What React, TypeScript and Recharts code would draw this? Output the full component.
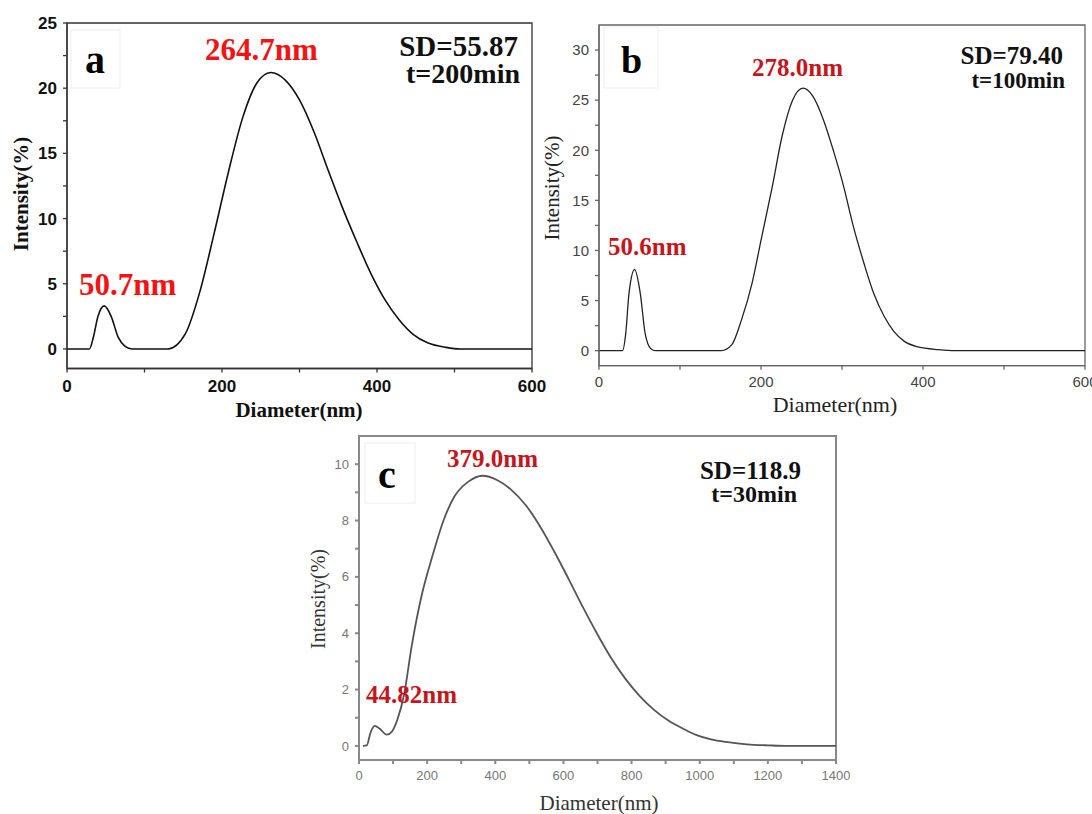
import React from "react";
import { LineChart, Line, XAxis, YAxis, ReferenceArea } from "recharts";

// panel a (t=200min)
const aDiameter = [0, 29, 34, 40, 48, 57, 66, 75, 84, 130, 153, 171, 190, 208, 227, 245, 263, 282, 300, 319, 337, 355, 374, 392, 411, 429, 447, 466, 489, 507, 600];
const aIntensity = [0, 0, 0.9, 2.5, 3.3, 2.5, 0.9, 0.2, 0, 0, 1.2, 4.3, 8.9, 13.5, 17.8, 20.4, 21.2, 20.6, 19.1, 16.6, 13.7, 10.9, 8.2, 5.8, 3.7, 2.2, 1.1, 0.45, 0.12, 0, 0];

// panel b (t=100min)
const bDiameter = [0, 29, 33, 37, 44, 51, 57, 64, 70, 151, 164, 176, 189, 201, 214, 226, 239, 252, 264, 277, 289, 302, 314, 327, 339, 352, 364, 377, 394, 419, 440, 600];
const bIntensity = [0, 0, 1.7, 5.7, 8.1, 5.7, 1.7, 0.2, 0, 0, 0.6, 3.1, 6.75, 11.4, 16.4, 21.4, 25.0, 26.2, 25.4, 23.05, 20.06, 16.4, 12.4, 8.75, 5.75, 3.43, 1.93, 0.93, 0.37, 0.1, 0, 0];

// panel c (t=30min)
const cDiameter = [12, 23, 33, 46, 60, 81, 96, 112, 133, 154, 185, 217, 248, 280, 321, 363, 405, 447, 489, 531, 573, 615, 656, 698, 740, 782, 824, 866, 908, 950, 991, 1033, 1075, 1117, 1159, 1200, 1260, 1400];
const cIntensity = [0, 0.02, 0.44, 0.71, 0.62, 0.4, 0.5, 0.91, 1.86, 3.5, 5.4, 6.8, 8.0, 8.85, 9.38, 9.59, 9.44, 9.09, 8.55, 7.8, 6.9, 5.93, 4.95, 4.0, 3.12, 2.38, 1.77, 1.28, 0.9, 0.62, 0.38, 0.23, 0.14, 0.08, 0.04, 0.02, 0, 0];

const xTicks600 = [0, 100, 200, 300, 400, 500, 600];
const xTicks1400 = [0, 100, 200, 300, 400, 500, 600, 700, 800, 900, 1000, 1100, 1200, 1300, 1400];
const aYTicks = [0, 2.5, 5, 7.5, 10, 12.5, 15, 17.5, 20, 22.5, 25];
const bYTicks = [0, 2.5, 5, 7.5, 10, 12.5, 15, 17.5, 20, 22.5, 25, 27.5, 30];
const cYTicks = [0, 1, 2, 3, 4, 5, 6, 7, 8, 9, 10];

const SANS = "'Liberation Sans', Arial, sans-serif";
const SERIF = "'Liberation Serif', 'Times New Roman', serif";

interface PanelProps {
  left: number;
  top: number;
  width: number;
  height: number;
  yWidth: number;
  margin: { top: number; right: number; bottom: number; left: number };
  xs: number[];
  ys: number[];
  xDomain: [number, number];
  yDomain: [number, number];
  xTicks: number[];
  yTicks: number[];
  xStep: number;
  yStep: number;
  tickFont: any;
  axisColor: string;
  axisWidth: number;
  lineColor: string;
  lineWidth: number;
}

const Panel: React.FC<PanelProps> = (p) => {
  const data = p.xs.map((d, i) => ({ d, v: p.ys[i] }));
  const axisLine = { stroke: p.axisColor, strokeWidth: p.axisWidth };
  return (
    <div style={{ position: "absolute", left: p.left, top: p.top }}>
      <LineChart width={p.width} height={p.height} data={data} margin={p.margin}>
        <XAxis
          dataKey="d"
          type="number"
          domain={p.xDomain}
          ticks={p.xTicks}
          allowDataOverflow
          tickFormatter={(v: number) => (v % p.xStep === 0 ? String(v) : "")}
          tick={p.tickFont}
          axisLine={axisLine}
          tickLine={axisLine}
          tickSize={4}
          tickMargin={7}
          height={30}
          interval={0}
        />
        <YAxis
          type="number"
          domain={p.yDomain}
          ticks={p.yTicks}
          allowDataOverflow
          tickFormatter={(v: number) => (v % p.yStep === 0 ? String(v) : "")}
          tick={p.tickFont}
          axisLine={axisLine}
          tickLine={axisLine}
          tickSize={4}
          tickMargin={6}
          width={p.yWidth}
          interval={0}
        />
        <ReferenceArea
          x1={p.xDomain[0]}
          x2={p.xDomain[1]}
          y1={p.yDomain[0]}
          y2={p.yDomain[1]}
          fill="none"
          fillOpacity={0}
          stroke={p.axisColor}
          strokeWidth={p.axisWidth}
          ifOverflow="visible"
        />
        <Line
          type="monotone"
          dataKey="v"
          stroke={p.lineColor}
          strokeWidth={p.lineWidth}
          dot={false}
          isAnimationActive={false}
        />
      </LineChart>
    </div>
  );
};

const App: React.FC = () => {
  const redA = "#f21414";
  const redBC = "#c4161c";
  return (
    <div style={{ position: "absolute", left: 0, top: 0, width: 1092, height: 814, background: "#fff", overflow: "hidden" }}>
      <Panel
        left={0}
        top={0}
        width={560}
        height={420}
        yWidth={67}
        margin={{ top: 23, right: 28, bottom: 21.5, left: 0 }}
        xs={aDiameter}
        ys={aIntensity}
        xDomain={[0, 600]}
        yDomain={[-1.5, 25]}
        xTicks={xTicks600}
        yTicks={aYTicks}
        xStep={200}
        yStep={5}
        tickFont={{ fontFamily: SANS, fontSize: 17, fontWeight: 700, fill: "#111" }}
        axisColor="#333"
        axisWidth={1.3}
        lineColor="#111"
        lineWidth={1.6}
      />
      <Panel
        left={540}
        top={0}
        width={552}
        height={420}
        yWidth={59}
        margin={{ top: 25, right: 7, bottom: 24.3, left: 0 }}
        xs={bDiameter}
        ys={bIntensity}
        xDomain={[0, 600]}
        yDomain={[-1.5, 32.5]}
        xTicks={xTicks600}
        yTicks={bYTicks}
        xStep={200}
        yStep={5}
        tickFont={{ fontFamily: SANS, fontSize: 15, fill: "#444" }}
        axisColor="#666"
        axisWidth={1.3}
        lineColor="#222"
        lineWidth={1.3}
      />
      <Panel
        left={290}
        top={420}
        width={560}
        height={394}
        yWidth={69}
        margin={{ top: 16, right: 14, bottom: 24, left: 0 }}
        xs={cDiameter}
        ys={cIntensity}
        xDomain={[0, 1400]}
        yDomain={[-0.5, 11]}
        xTicks={xTicks1400}
        yTicks={cYTicks}
        xStep={200}
        yStep={2}
        tickFont={{ fontFamily: SANS, fontSize: 13, fill: "#777" }}
        axisColor="#888"
        axisWidth={2}
        lineColor="#555"
        lineWidth={1.8}
      />
      <svg width={1092} height={814} style={{ position: "absolute", left: 0, top: 0, pointerEvents: "none" }}>
        {/* panel a */}
        <rect x={71} y={30} width={49} height={58} fill="#fff" stroke="#eee" />
        <text x={85} y={73} fontFamily={SERIF} fontWeight={700} fontSize={40} fill="#000">a</text>
        <text x={205} y={60} fontFamily={SERIF} fontWeight={700} fontSize={31} fill={redA}>264.7nm</text>
        <text x={79} y={295} fontFamily={SERIF} fontWeight={700} fontSize={31} fill={redA}>50.7nm</text>
        <text x={518} y={56} textAnchor="end" fontFamily={SERIF} fontWeight={700} fontSize={29} fill="#111">SD=55.87</text>
        <text x={520} y={83} textAnchor="end" fontFamily={SERIF} fontWeight={700} fontSize={28} fill="#111">t=200min</text>
        <text x={299} y={417} textAnchor="middle" fontFamily={SERIF} fontWeight={700} fontSize={21} fill="#111">Diameter(nm)</text>
        <text transform="translate(28,194) rotate(-90)" textAnchor="middle" fontFamily={SERIF} fontWeight={700} fontSize={21} fill="#111">Intensity(%)</text>

        {/* panel b */}
        <rect x={604} y={27} width={54} height={61} fill="#fff" stroke="#eee" />
        <text x={621} y={73} fontFamily={SERIF} fontWeight={700} fontSize={38} fill="#000">b</text>
        <text x={752} y={76} fontFamily={SERIF} fontWeight={700} fontSize={25} fill={redBC}>278.0nm</text>
        <text x={608} y={255} fontFamily={SERIF} fontWeight={700} fontSize={25} fill={redBC}>50.6nm</text>
        <text x={1063} y={64} textAnchor="end" fontFamily={SERIF} fontWeight={700} fontSize={25} fill="#111">SD=79.40</text>
        <text x={1065} y={88} textAnchor="end" fontFamily={SERIF} fontWeight={700} fontSize={23} fill="#111">t=100min</text>
        <text x={835} y={412} textAnchor="middle" fontFamily={SERIF} fontSize={22} fill="#222">Diameter(nm)</text>
        <text transform="translate(559,188) rotate(-90)" textAnchor="middle" fontFamily={SERIF} fontSize={21} fill="#222">Intensity(%)</text>

        {/* panel c */}
        <rect x={365} y={443} width={50} height={60} fill="#fff" stroke="#eee" />
        <text x={378} y={488} fontFamily={SERIF} fontWeight={700} fontSize={40} fill="#000">c</text>
        <text x={447} y={467} fontFamily={SERIF} fontWeight={700} fontSize={25} fill={redBC}>379.0nm</text>
        <text x={366} y={703} fontFamily={SERIF} fontWeight={700} fontSize={25} fill={redBC}>44.82nm</text>
        <text x={801} y={479} textAnchor="end" fontFamily={SERIF} fontWeight={700} fontSize={25} fill="#111">SD=118.9</text>
        <text x={797} y={502} textAnchor="end" fontFamily={SERIF} fontWeight={700} fontSize={24} fill="#111">t=30min</text>
        <text x={599} y={810} textAnchor="middle" fontFamily={SERIF} fontSize={21} fill="#333">Diameter(nm)</text>
        <text transform="translate(325,599) rotate(-90)" textAnchor="middle" fontFamily={SERIF} fontSize={20} fill="#333">Intensity(%)</text>
      </svg>
    </div>
  );
};

export default App;
